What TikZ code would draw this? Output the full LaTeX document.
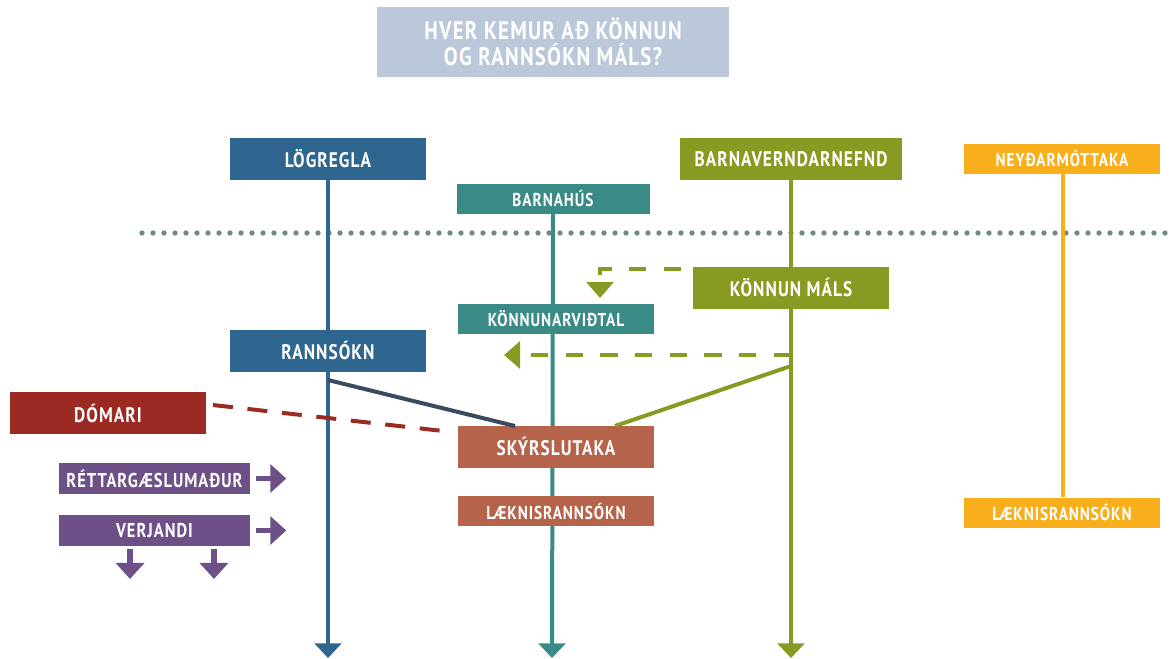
\documentclass[tikz,border=0pt]{standalone}
\usepackage{fontspec}
\setmainfont{PT Sans}[FakeStretch=0.82, LetterSpace=5]
\usetikzlibrary{arrows.meta,backgrounds}

\definecolor{titlebg}{HTML}{BBC8DA}
\definecolor{lblue}{HTML}{2F6690}
\definecolor{lteal}{HTML}{3A8A85}
\definecolor{lolive}{HTML}{889A22}
\definecolor{lorange}{HTML}{F9AE1C}
\definecolor{lred}{HTML}{9B2B22}
\definecolor{lterra}{HTML}{B5634B}
\definecolor{lpurple}{HTML}{6C5087}
\definecolor{ldots}{HTML}{6E8A80}
\definecolor{lslate}{HTML}{3B4A5E}

\tikzset{
  bigbox/.style={fill=#1, text=white, inner sep=0pt, minimum width=147pt, minimum height=31.5pt, font=\bfseries\fontsize{15.8}{17}\selectfont},
  smallbox/.style={fill=#1, text=white, inner sep=0pt, minimum width=147pt, minimum height=22.5pt, font=\bfseries\fontsize{14}{15}\selectfont},
  sidebox/.style={fill=lpurple, text=white, inner sep=0pt, minimum width=143.25pt, minimum height=23.25pt, font=\bfseries\fontsize{15}{16}\selectfont},
  track/.style={draw=#1, line width=3pt, -{Triangle[width=20pt,length=11pt]}},
  dashhint/.style={draw=lolive, line width=3pt, dash pattern=on 13pt off 13pt, -{Triangle[width=20pt,length=12pt]}},
  purparrow/.style={draw=lpurple, line width=4pt, -{Triangle[width=21pt,length=12pt]}}
}

\begin{document}
\begin{tikzpicture}[x=0.75pt,y=0.75pt,yscale=-1,xscale=1]
            \useasboundingbox (0,0) rectangle (1171,658);

            % Title
            \node (title) at (553,42) [fill=titlebg, text=white, minimum width=264pt, minimum height=52.5pt, align=center, font=\bfseries\fontsize{19}{19.5}\selectfont] {HVER KEMUR AÐ KÖNNUN\\OG RANNSÓKN MÁLS?};

            % Top row
            \node (logregla) at (328,159) [bigbox=lblue] {LÖGREGLA};
            \node (barnahus) at (553,198.5) [smallbox=lteal, minimum width=144.75pt] {BARNAHÚS};
            \node (barnavernd) at (791,159) [bigbox=lolive, minimum width=166.5pt] {BARNAVERNDARNEFND};
            \node (neydar) at (1062,159) [smallbox=lorange] {NEYÐARMÓTTAKA};

            % Middle boxes
            \node (konnun) at (791,287.5) [bigbox=lolive] {KÖNNUN MÁLS};
            \node (vidtal) at (556,319) [smallbox=lteal] {KÖNNUNARVIÐTAL};
            \node (rannsokn) at (328,350.5) [bigbox=lblue] {RANNSÓKN};
            \node (domari) at (108,413) [bigbox=lred] {DÓMARI};
            \node (skyrsla) at (556,446.5) [bigbox=lterra] {SKÝRSLUTAKA};
            \node (laeknisA) at (556,511) [smallbox=lterra] {LÆKNISRANNSÓKN};
            \node (laeknisB) at (1062,512.5) [smallbox=lorange] {LÆKNISRANNSÓKN};

            % Left side
            \node (rettar) at (154.5,478.5) [sidebox] {RÉTTARGÆSLUMAÐUR};
            \node (verjandi) at (154.5,530.5) [sidebox] {VERJANDI};

            % Free ends
            \coordinate (endA) at (328,658);
            \coordinate (endB) at (552,658);
            \coordinate (endC) at (791,658);
            \coordinate (dotL) at (142,233);
            \coordinate (dotR) at (1166,233);
            \coordinate (kA) at (681,269);
            \coordinate (kB) at (600,298);
            \coordinate (kC) at (791,355);
            \coordinate (kD) at (504,355);
            \coordinate (rA) at (328,380);
            \coordinate (rB) at (515,426);
            \coordinate (oA) at (791,366);
            \coordinate (oB) at (615,426);
            \coordinate (dA) at (213,405);
            \coordinate (dB) at (452,432);

            \begin{scope}[on background layer]
            % Dotted divider
            \draw [ldots, line width=4pt, line cap=round, dash pattern=on 0pt off 8.25pt] (dotL) -- (dotR);

            % Vertical tracks
            \draw [track=lblue] (logregla.south) -- (endA);
            \draw [track=lteal] (barnahus.south) -- (endB);
            \draw [track=lolive] (barnavernd.south) -- (endC);
            \draw [draw=lorange, line width=3pt] (neydar.south -| 1063,0) -- (laeknisB.north -| 1063,0);
            \end{scope}

            % Dashed hints
            \draw [dashhint] (kA) -| (kB);
            \draw [dashhint] (kC) -- (kD);

            % Towards skyrslutaka
            \draw [lslate, line width=3pt] (rA) -- (rB);
            \draw [lolive, line width=3pt] (oA) -- (oB);
            \draw [lred, line width=3pt, dash pattern=on 15pt off 11pt] (dA) -- (dB);

            % Purple arrows
            \draw [purparrow] (rettar.east) ++(4.5pt,0) -- ++(22.5pt,0);
            \draw [purparrow] (verjandi.east) ++(4.5pt,0) -- ++(22.5pt,0);
            \draw [purparrow] (verjandi.south -| 130,0) ++(0,2pt) -- ++(0,22.5pt);
            \draw [purparrow] (verjandi.south -| 214,0) ++(0,2pt) -- ++(0,22.5pt);

            \end{tikzpicture}
\end{document}
